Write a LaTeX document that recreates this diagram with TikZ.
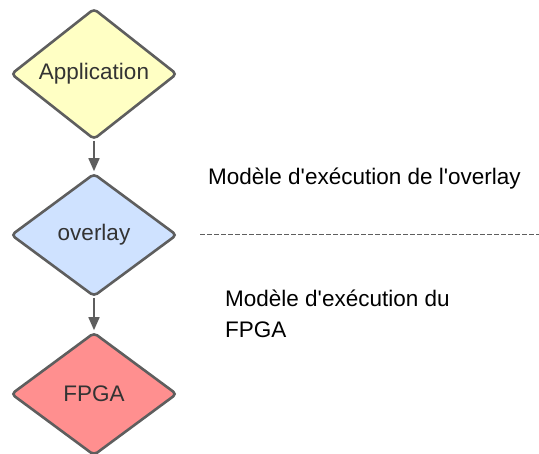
\documentclass[tikz,border=0pt]{standalone}
\usepackage{fontspec}
\setmainfont{Liberation Sans}
\usetikzlibrary{shapes.geometric,arrows.meta}
\definecolor{edge}{HTML}{5E5E5E}
\definecolor{ink}{HTML}{333333}
\definecolor{appfill}{HTML}{FFFFC4}
\definecolor{ovfill}{HTML}{CFE2FF}
\definecolor{fpgafill}{HTML}{FF8F8F}
\newcommand{\apos}{\textquotesingle}
\tikzset{
  decision/.style={diamond, draw=edge, line width=2.6pt, rounded corners=4pt,
    minimum width=166pt, minimum height=123pt, inner sep=0pt,
    font=\fontsize{22.5}{26}\selectfont, text=ink},
  flow/.style={draw=edge, line width=1.6pt,
    -{Triangle[width=11pt,length=13pt]}, shorten >=1pt},
  caption/.style={font=\fontsize{22.5}{31}\selectfont, text=black, inner sep=0pt},
  divider/.style={draw=edge, line width=0.9pt, dash pattern=on 4.5pt off 2.5pt}
}
\begin{document}
\begin{tikzpicture}[x=1pt,y=-1pt]
  \useasboundingbox (0,0) rectangle (539,454);
  \node[decision, fill=appfill] (app) at (94,74) {Application};
  \node[decision, fill=ovfill] (ov) at (94,235) {overlay};
  \node[decision, fill=fpgafill] (fpga) at (94,394) {FPGA};
  \draw[flow] (app.south) -- (ov.north);
  \draw[flow] (ov.south) -- (fpga.north);
  \node[caption, anchor=base west] (ovmodel) at (208,185) {Modèle d\apos exécution de l\apos overlay};
  \coordinate (divl) at (200,234);
  \coordinate (divr) at (539,234);
  \draw[divider] (divl) -- (divr);
  \node[caption, anchor=base west, align=left] (fpgamodel) at (225,338) {Modèle d\apos exécution du\\FPGA};
\end{tikzpicture}
\end{document}
